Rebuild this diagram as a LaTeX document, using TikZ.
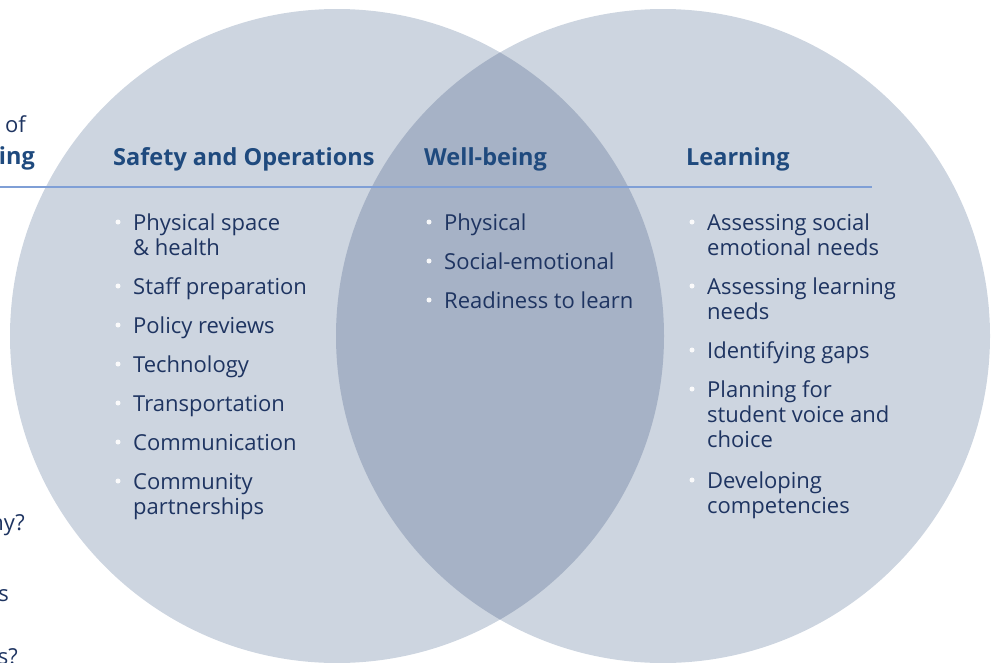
\documentclass[tikz,border=0pt]{standalone}
\usepackage{fontspec}
\setmainfont{Open Sans}
\definecolor{vennfill}{HTML}{CDD5E0}
\definecolor{vennlap}{HTML}{A6B2C6}
\definecolor{headblue}{HTML}{1F4A7E}
\definecolor{textnavy}{HTML}{1E3461}
\definecolor{rulecol}{HTML}{7F9FD6}
\tikzset{
  heading/.style={font=\fontsize{23.5}{25}\selectfont\bfseries, text=headblue, inner sep=0pt, anchor=base west},
  item/.style={font=\fontsize{22}{25}\selectfont, text=textnavy, inner sep=0pt, anchor=base west, align=left},
  bulletdot/.style={fill=white, fill opacity=0.9},
}
\begin{document}
\begin{tikzpicture}[x=1pt,y=-1pt]
\useasboundingbox (0,0) rectangle (993,662);
\clip (0,0) rectangle (993,662);
% the two circles and their overlap
\fill[vennfill] (337,336) circle (327pt);
\fill[vennfill] (663,336) circle (327pt);
\begin{scope}
	\clip (337,336) circle (327pt);
	\fill[vennlap] (663,336) circle (327pt);
\end{scope}
% cut-off text at the left edge
\node[item, anchor=base east] (cutof) at (26,132) {of};
\node[heading, anchor=base east] (cuting) at (35,164) {ing};
\node[item, anchor=base east] (cuthy) at (25,530) {hy?};
\node[item, anchor=base east] (cuts) at (9,601) {s};
\node[item, anchor=base east] (cutsq) at (18,664) {s?};
% headings and rule
\node[heading] (safety) at (113,165) {Safety and Operations};
\node[heading] (wellbeing) at (424,165) {Well-being};
\node[heading] (learning) at (686,165) {Learning};
\coordinate (rulel) at (0,187);
\coordinate (ruler) at (872,187);
\draw[rulecol, line width=1.5pt] (rulel) -- (ruler);
% bullet lists (base anchor sits on the last line)
\foreach \n / \x / \y / \k / \txt in {
	sa1/133/230/2/{Physical space\\\& health},
	sa2/133/294/1/{Staff preparation},
	sa3/133/333/1/{Policy reviews},
	sa4/133/372/1/{Technology},
	sa5/133/411/1/{Transportation},
	sa6/133/450/1/{Communication},
	sa7/133/489/2/{Community\\partnerships},
	wb1/444/230/1/{Physical},
	wb2/444/269/1/{Social-emotional},
	wb3/444/308/1/{Readiness to learn},
	le1/707/230/2/{Assessing social\\emotional needs},
	le2/707/294/2/{Assessing learning\\needs},
	le3/707/358/1/{Identifying gaps},
	le4/707/397/3/{Planning for\\student voice and\\choice},
	le5/707/488/2/{Developing\\competencies}} {
	\node[item] (\n) at (\x,{\y+25*(\k-1)}) {\txt};
	\fill[bulletdot] (\x-15,\y-8) circle (2.5pt);
}
\end{tikzpicture}
\end{document}
